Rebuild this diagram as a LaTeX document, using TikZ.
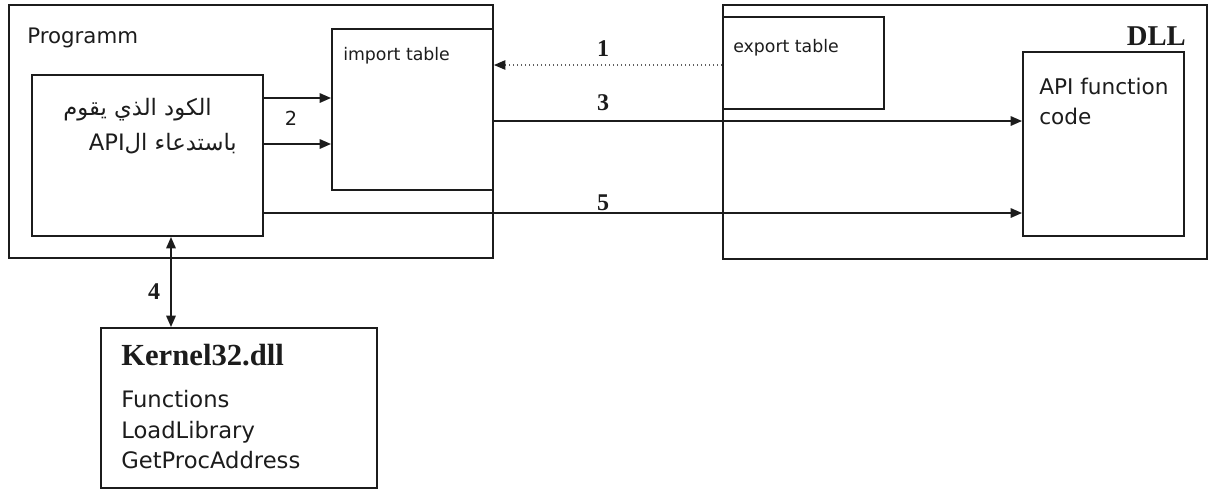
\documentclass[tikz,border=0pt]{standalone}
\usepackage{fontspec}
\setmainfont{Liberation Serif}
\setsansfont{DejaVu Sans}
\newfontfamily\arabicfont[Script=Arabic]{DejaVu Sans}
\TeXXeTstate=1
\usetikzlibrary{arrows.meta,fit}
\definecolor{frameln}{RGB}{28,28,28}
\definecolor{dotln}{RGB}{95,95,95}

\tikzset{
  box/.style={draw=frameln,line width=1.4pt,inner sep=0pt},
  txt/.style={inner sep=0pt,text=frameln},
  ui/.style={txt,font=\sffamily\fontsize{#1}{#1}\selectfont},
  numlbl/.style={txt,font=\bfseries\fontsize{18}{18}\selectfont},
  arabic/.style={txt,anchor=base east,font=\arabicfont\fontsize{17}{17}\selectfont},
  arr/.style={draw=frameln,line width=1.4pt,-{Triangle[length=8.5pt,width=7pt]}},
  dotarr/.style={draw=dotln,line width=1pt,dotted,-{Triangle[length=8.5pt,width=7pt,color=frameln]}}
}

\begin{document}
\begin{tikzpicture}[x=0.75pt,y=-0.75pt]
  \useasboundingbox (0,0) rectangle (1213,494);
  \node[box,fit={(9,5) (493,258)}] (prog) {};
  \node[box,fit={(723,5) (1207,259)}] (dll) {};
  \node[box,fit={(32,75) (263,236)}] (code) {};
  \node[box,fit={(332,29) (493,190)}] (imp) {};
  \node[box,fit={(723,17) (884,109)}] (exp) {};
  \node[box,fit={(1023,52) (1184,236)}] (api) {};
  \node[box,fit={(101,328) (377,488)}] (kern) {};

  \node[ui=16,anchor=base west] (progname) at (27,43) {Programm};
  \node[ui=13,anchor=base west] (impname) at (343,60) {import table};
  \node[ui=13,anchor=base west] (expname) at (733,52) {export table};
  \node[txt,anchor=base east,font=\bfseries\fontsize{21.5}{21.5}\selectfont] (dllname) at (1186,45) {DLL};
  \node[ui=16.2,anchor=base west] (apiname) at (1039,94) {API function};
  \node[ui=16.2,anchor=base west] (apicode) at (1039,124) {code};
  \node[arabic] (callA) at (212,115) {\beginR الكود الذي يقوم\endR};
  \node[arabic] (callB) at (237,150) {\beginR باستدعاء ال\beginL API\endL\endR};
  \node[txt,anchor=base west,font=\bfseries\fontsize{23}{23}\selectfont] (kernname) at (121,365) {Kernel32.dll};
  \node[ui=17,anchor=base west] (fnA) at (121,407) {Functions};
  \node[ui=17,anchor=base west] (fnB) at (121,438) {LoadLibrary};
  \node[ui=17,anchor=base west] (fnC) at (121,468) {GetProcAddress};

  \draw[dotarr] (exp.west |- 0,65) -- (imp.east |- 0,65);
  \draw[arr] (code.east |- 0,98) -- (imp.west |- 0,98);
  \draw[arr] (code.east |- 0,144) -- (imp.west |- 0,144);
  \draw[arr] (imp.east |- 0,121) -- (api.west |- 0,121);
  \draw[arr] (code.east |- 0,213) -- (api.west |- 0,213);
  \draw[arr,{Triangle[length=8.5pt,width=7pt]}-{Triangle[length=8.5pt,width=7pt]}] (kern.north -| 171,0) -- (code.south -| 171,0);

  \node[numlbl] (n1) at (603,49) {1};
  \node[ui=14.5] (n2) at (291,118) {2};
  \node[numlbl] (n3) at (603,103) {3};
  \node[numlbl] (n4) at (154,292) {4};
  \node[numlbl] (n5) at (603,203) {5};
\end{tikzpicture}
\end{document}
